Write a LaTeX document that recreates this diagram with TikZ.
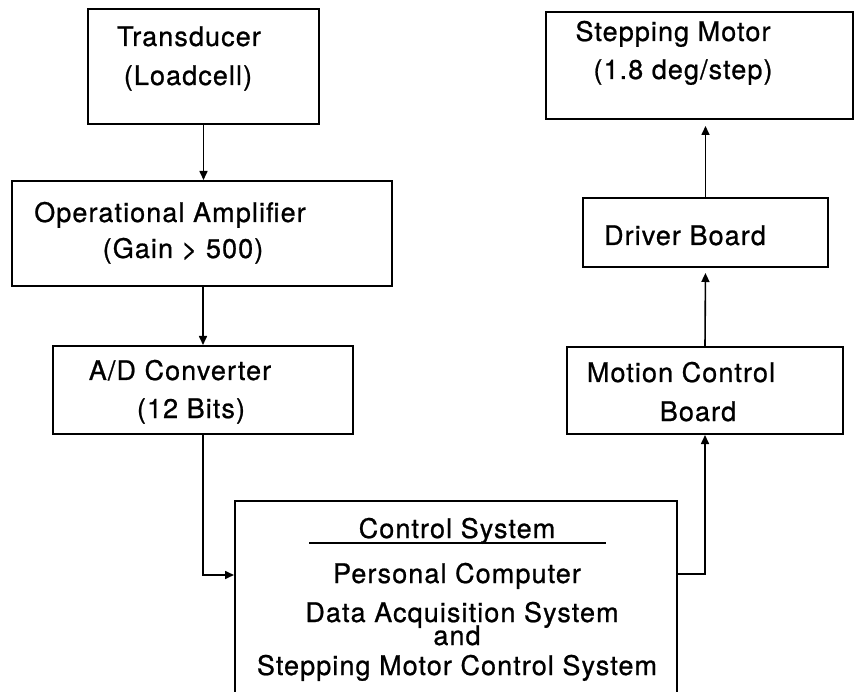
\documentclass[tikz,border=0pt]{standalone}
\usepackage{fontspec}
\setmainfont{TeX Gyre Heros}[LetterSpace=4, FakeBold=0.8]
\usetikzlibrary{arrows.meta}

\begin{document}
\begin{tikzpicture}[
  x=1pt, y=-1pt,
  box/.style={draw, line width=2pt, inner sep=0pt},
  lbl/.style={font=\fontsize{27}{32}\selectfont, anchor=base, inner sep=0pt},
  arr/.style={line width=1.6pt, -{Triangle[length=9pt, width=8pt]}}
]
\useasboundingbox (0,0) rectangle (854,692);

% left column
\node[box, minimum width=231pt, minimum height=115pt] (trans) at (203.5,66.5) {};
\node[box, minimum width=380pt, minimum height=105pt] (opamp) at (202,233.5) {};
\node[box, minimum width=300pt, minimum height=88pt] (adc) at (203,390) {};
% right column
\node[box, minimum width=307pt, minimum height=107pt] (motor) at (699.5,65.5) {};
\node[box, minimum width=245pt, minimum height=69pt] (driver) at (705.5,232.5) {};
\node[box, minimum width=276pt, minimum height=87pt] (motion) at (705,390.5) {};
% control system (runs off the bottom)
\node[box, minimum width=442pt, minimum height=219pt] (ctrl) at (456,610.5) {};

% texts
\node[lbl] (transA) at (189,46) {Transducer};
\node[lbl] (transB) at (188,85) {(Loadcell)};
\node[lbl] (opampA) at (170,222) {Operational Amplifier};
\node[lbl] (opampB) at (183,258) {(Gain > 500)};
\node[lbl] (adcA) at (180,380) {A/D Converter};
\node[lbl] (adcB) at (191,418) {(12 Bits)};
\node[lbl] (motorA) at (673,41) {Stepping Motor};
\node[lbl] (motorB) at (683,79) {(1.8 deg/step)};
\node[lbl] (driverA) at (685,245) {Driver Board};
\node[lbl] (motionA) at (681,382) {Motion Control};
\node[lbl] (motionB) at (698,421) {Board};
\node[lbl] (ctrlA) at (457,538) {Control System};
\node[lbl] (ctrlB) at (457,583) {Personal Computer};
\node[lbl] (ctrlC) at (462,622) {Data Acquisition System};
\node[lbl] (ctrlD) at (457,645) {and};
\node[lbl] (ctrlE) at (457,675) {Stepping Motor Control System};
\coordinate (ulA) at (309,543);
\coordinate (ulB) at (606,543);
\draw[line width=1.6pt] (ulA) -- (ulB);

% connectors
\path (ctrl.north west) ++(0,75) coordinate (ctrlin);
\path (ctrl.north east) ++(0,74) coordinate (ctrlout);
\draw[arr] (trans.south) -- (trans.south |- opamp.north);
\draw[arr] (adc.north |- opamp.south) -- (adc.north);
\draw[arr] (adc.south) |- (ctrlin);
\draw[arr] (ctrlout) -| (motion.south);
\draw[arr, shorten >=5pt] (motion.north) -- (driver.south);
\draw[arr, shorten >=6pt] (driver.north) -- (driver.north |- motor.south);
\end{tikzpicture}
\end{document}
